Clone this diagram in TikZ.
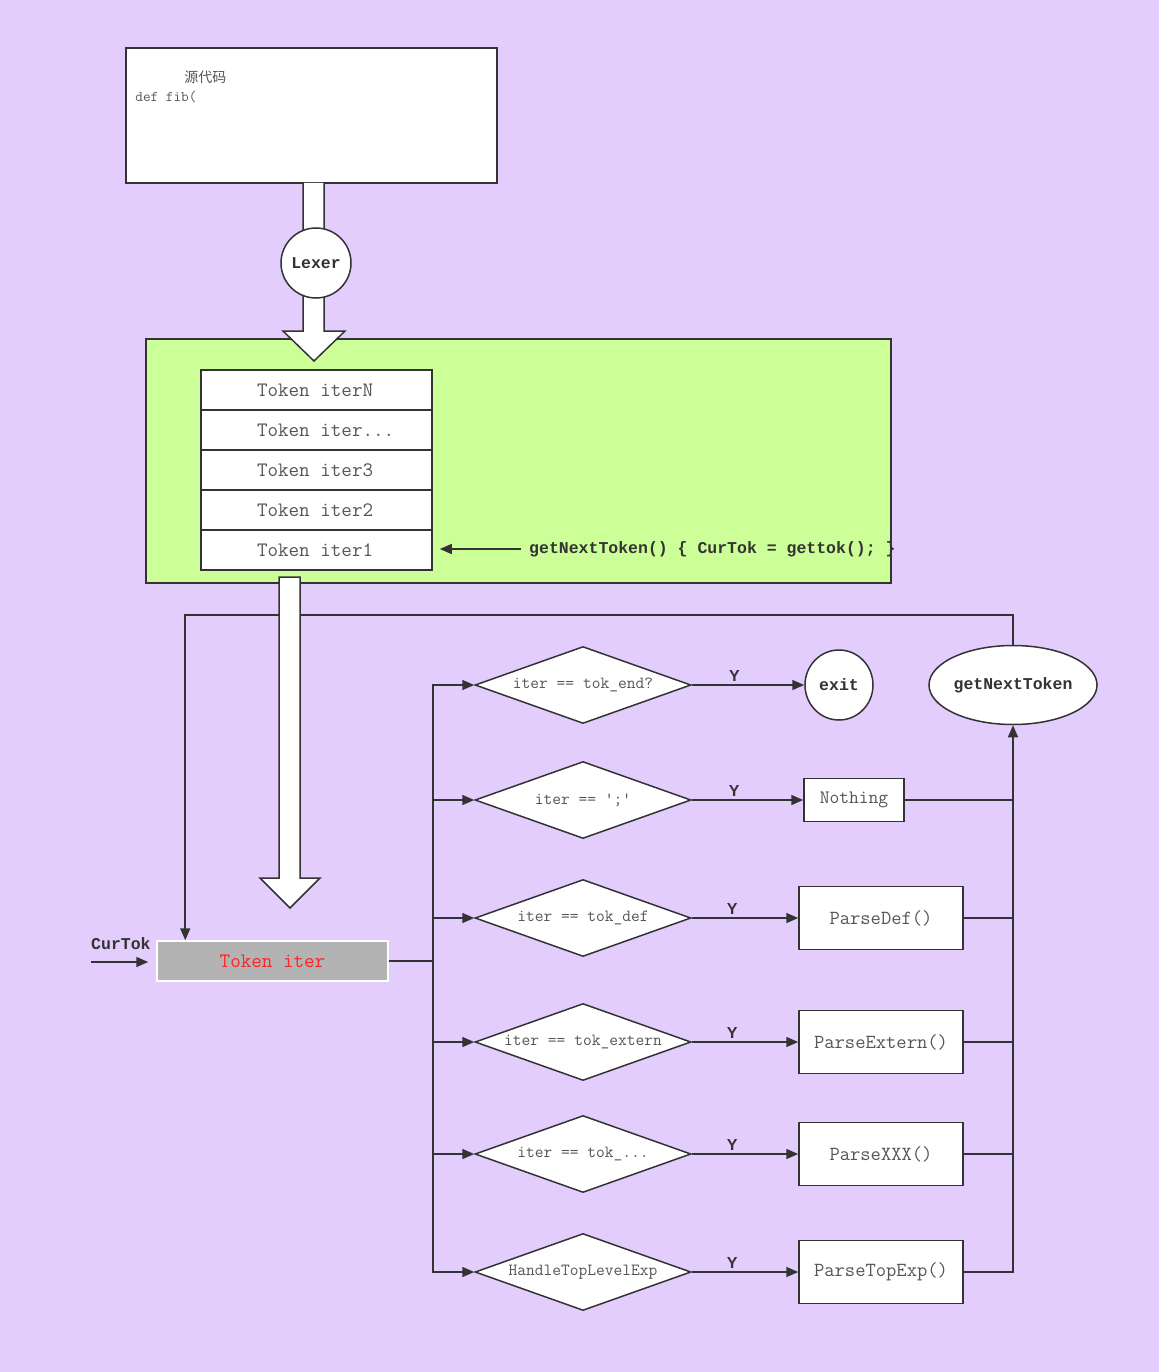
\documentclass[tikz,border=0pt]{standalone}
\usepackage{fontspec}
\setsansfont{Liberation Sans}
\newfontfamily\codebold{Liberation Mono}
\newfontfamily\cjk{Noto Sans CJK SC}
\usepackage{xcolor}
\definecolor{cBg}{HTML}{E3CDFD}
\definecolor{cPool}{HTML}{CDFF99}
\definecolor{cLine}{HTML}{333333}
\definecolor{cText}{HTML}{555555}
\definecolor{cTok}{HTML}{B3B3B3}
\definecolor{cRed}{HTML}{FF2222}
\usepackage{tikz}
\usetikzlibrary{positioning,arrows.meta,shapes.geometric,calc}
\tikzset{
  node-box/.style={draw=cLine,line width=1.5pt,fill=white,text=cText,
    minimum width=164pt,minimum height=63pt,inner sep=0pt,
    font=\ttfamily\fontsize{20}{22}\selectfont},
  node-cell/.style={draw=cLine,line width=1.5pt,fill=white,text=cText,
    minimum width=231pt,minimum height=40pt,inner sep=0pt,
    font=\ttfamily\fontsize{20.5}{22}\selectfont},
  node-cond/.style={draw=cLine,line width=1.5pt,fill=white,text=cText,
    diamond,aspect=2.8,minimum width=216pt,minimum height=77pt,inner sep=0pt,
    font=\ttfamily\fontsize{17}{19}\selectfont},
  node-oval/.style={draw=cLine,line width=1.5pt,fill=white,text=cLine,
    ellipse,inner sep=0pt,font=\codebold\bfseries\fontsize{16.5}{18}\selectfont},
  node-note/.style={text=cLine,inner sep=0pt,
    font=\codebold\bfseries\fontsize{16.5}{18}\selectfont},
  label-y/.style={above,pos=0.38,inner sep=2.5pt,text=cLine,
    font=\sffamily\bfseries\fontsize{16}{18}\selectfont},
  line/.style={draw=cLine,line width=1.6pt},
  arrow/.style={-{Triangle[length=12pt,width=10pt]},line width=1.6pt,draw=cLine},
  block-arrow/.style={draw=cLine,line width=1.5pt,fill=white,line join=miter},
}

\begin{document}
\begin{tikzpicture}[x=1pt,y=-1pt]
  \fill[cBg] (0,0) rectangle (1159,1372);
  % source code box
  \node[draw=cLine,line width=1.5pt,fill=white,minimum width=371pt,minimum height=135pt] (src) at (311.5,115.5) {};
  \node[anchor=west,inner sep=0pt,text=cText,font=\cjk\fontsize{14}{16}\selectfont] (srctitle) at ($(src.north west)+(59,30)$) {源代码};
  \node[anchor=west,inner sep=0pt,text=cText,font=\ttfamily\fontsize{14.8}{16}\selectfont] (srccode) at ($(src.north west)+(10,50)$) {def fib(};
  % token pool
  \node[draw=cLine,line width=1.5pt,fill=cPool,minimum width=745pt,minimum height=244pt] (pool) at (518.5,461) {};
  \node[node-cell] (cell0) at (316.5,390) {\makebox[119pt][l]{Token iterN}};
  \node[node-cell] (cell1) at (316.5,430) {\makebox[119pt][l]{Token iter...}};
  \node[node-cell] (cell2) at (316.5,470) {\makebox[119pt][l]{Token iter3}};
  \node[node-cell] (cell3) at (316.5,510) {\makebox[119pt][l]{Token iter2}};
  \node[node-cell] (cell4) at (316.5,550) {\makebox[119pt][l]{Token iter1}};
  % lexer arrow
  \filldraw[block-arrow] (303,183) -- (303,331) -- (283,331) -- (314,361) -- (345,331) -- (324,331) -- (324,183);
  \node[node-oval,circle,minimum size=70pt] (lexer) at (316,263) {Lexer};
  \node[node-note,anchor=west] (callnote) at (529,549) {getNextToken() \{ CurTok = gettok(); \}};
  \draw[arrow,shorten <=8pt,shorten >=7pt] (callnote.west) -- (callnote.west -| cell4.east);

  % dispatch
  \node[draw=white,line width=1.5pt,fill=cTok,text=cRed,minimum width=231pt,minimum height=40pt,
    font=\ttfamily\fontsize{20.5}{22}\selectfont] (tok) at (272.5,961) {Token iter};
  \node[node-note,anchor=south west] (curtok) at (91,950) {CurTok};
  \coordinate (curin) at (91,962);
  \draw[arrow,shorten >=8pt] (curin) -- (curin -| tok.west);

  \node[node-cond] (d0) at (583,685)  {iter == tok\_end?};
  \node[node-cond] (d1) at (583,800)  {iter == \textquotesingle;\textquotesingle};
  \node[node-cond] (d2) at (583,918)  {iter == tok\_def};
  \node[node-cond] (d3) at (583,1042) {iter == tok\_extern};
  \node[node-cond] (d4) at (583,1154) {iter == tok\_...};
  \node[node-cond] (d5) at (583,1272) {HandleTopLevelExp};

  \node[node-oval,minimum width=68pt,minimum height=70pt] (exit) at (839,685) {exit};
  \node[node-oval,minimum width=168pt,minimum height=79pt] (gnt) at (1013,685) {getNextToken};
  \node[node-box,minimum width=100pt,minimum height=43pt,font=\ttfamily\fontsize{19}{21}\selectfont] (nothing) at (854,800) {Nothing};
  \node[node-box] (pdef)    at (881,918)  {ParseDef()};
  \node[node-box] (pextern) at (881,1042) {ParseExtern()};
  \node[node-box] (pxxx)    at (881,1154) {ParseXXX()};
  \node[node-box] (ptop)    at (881,1272) {ParseTopExp()};

  \coordinate (bus) at ($(tok.east)+(44,0)$);
  \foreach \i in {0,...,5}
    \draw[arrow] (tok.east) -- (bus) |- (d\i.west);
  \draw[arrow] (d0.east) -- node[label-y] {Y} (exit.west);
  \draw[arrow] (d1.east) -- node[label-y] {Y} (nothing.west);
  \draw[arrow] (d2.east) -- node[label-y] {Y} (pdef.west);
  \draw[arrow] (d3.east) -- node[label-y] {Y} (pextern.west);
  \draw[arrow] (d4.east) -- node[label-y] {Y} (pxxx.west);
  \draw[arrow] (d5.east) -- node[label-y] {Y} (ptop.west);
  \foreach \n in {nothing,pdef,pextern,pxxx}
    \draw[line] (\n.east) -- (\n.east -| gnt.south);
  \draw[arrow] (ptop.east) -| (gnt.south);
  % loop back to the current token
  \coordinate (loopend) at ($(tok.north west)+(29,0)$);
  \draw[arrow] (gnt.north) -- ++(0,-30) -| (loopend);
  \filldraw[block-arrow] (279,577) -- (279,878) -- (260,878) -- (290,908) -- (320,878) -- (300,878) -- (300,577) -- cycle;
\end{tikzpicture}
\end{document}
